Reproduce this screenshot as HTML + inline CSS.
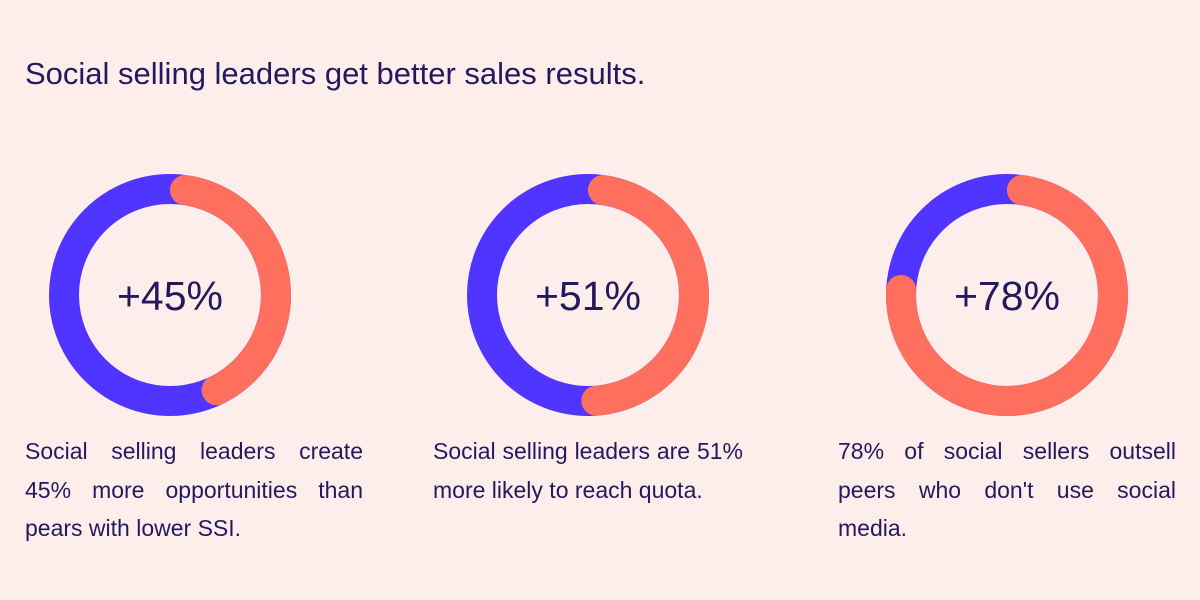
<!DOCTYPE html>
<html><head><meta charset="utf-8"><style>
body{margin:0;width:1200px;height:600px;background:#fdeeeb;font-family:"Liberation Sans",sans-serif;color:#24195e;position:relative;overflow:hidden}
h1{position:absolute;left:25px;top:56px;margin:0;font-weight:normal;font-size:31px}
.cap{position:absolute;top:432px;font-size:23px;line-height:38.5px;text-align:justify;margin:0}
svg{position:absolute;left:0;top:0}
</style></head><body>
<h1>Social selling leaders get better sales results.</h1>
<svg id="chart" width="1200" height="600"></svg>
<p class="cap" style="left:25px;width:338px">Social selling leaders create 45% more opportunities than pears with lower SSI.</p>
<p class="cap" style="left:433px;width:310px">Social selling leaders are 51% more likely to reach quota.</p>
<p class="cap" style="left:838px;width:338px">78% of social sellers outsell peers who don't use social media.</p>
<script>
const labels=["+45%","+51%","+78%"];
const values=[45,51,78];
const centersX=[170,588,1007];
const cy=295,r=106,sw=30;
const svg=document.getElementById('chart');
const NS="http://www.w3.org/2000/svg";
function pt(a){return [Math.sin(a)*r,-Math.cos(a)*r];}
values.forEach((v,i)=>{
  const cx=centersX[i];
  const ring=document.createElementNS(NS,'circle');
  
  
  ring.setAttribute('cx',cx);ring.setAttribute('cy',cy);ring.setAttribute('r',r);
  ring.setAttribute('fill','none');ring.setAttribute('stroke','#4f35ff');ring.setAttribute('stroke-width',sw);
  svg.appendChild(ring);
  const capA=(sw/2)/r;
  const a0=capA,a1=v/100*2*Math.PI-capA;
  const p0=pt(a0),p1=pt(a1);
  const large=(a1-a0)>Math.PI?1:0;
  const arc=document.createElementNS(NS,'path');
  
  
  arc.setAttribute('d',`M${cx+p0[0]},${cy+p0[1]} A${r},${r} 0 ${large} 1 ${cx+p1[0]},${cy+p1[1]}`);
  arc.setAttribute('fill','none');arc.setAttribute('stroke','#ff6f5e');arc.setAttribute('stroke-width',sw);arc.setAttribute('stroke-linecap','round');
  svg.appendChild(arc);
  const t=document.createElementNS(NS,'text');
  
  
  t.setAttribute('x',cx);t.setAttribute('y',cy+15);t.setAttribute('text-anchor','middle');
  t.setAttribute('font-size','41');t.setAttribute('fill','#24195e');t.setAttribute('font-family','Liberation Sans, sans-serif');
  t.textContent=labels[i];
  svg.appendChild(t);
});
</script>
</body></html>
